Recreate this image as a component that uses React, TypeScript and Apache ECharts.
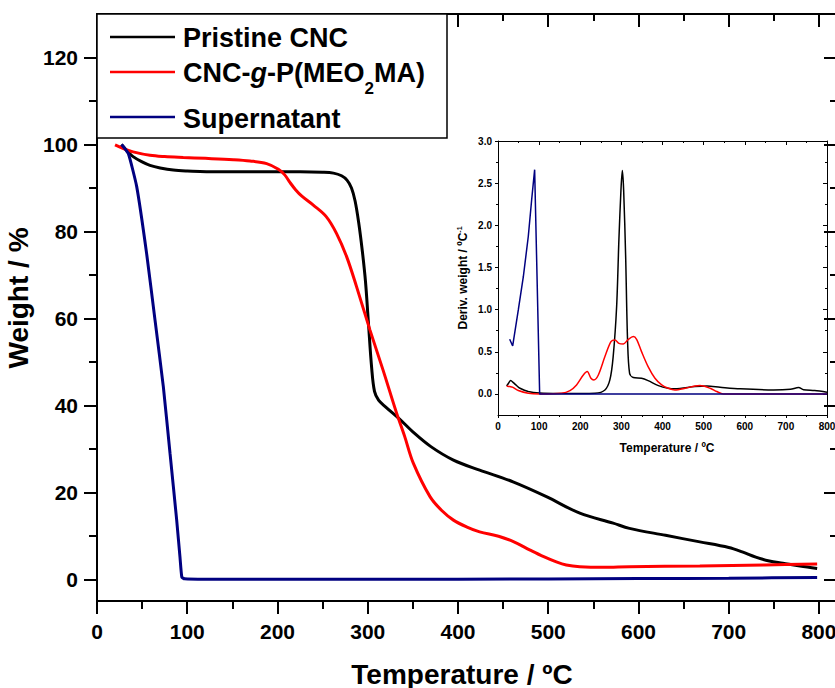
import React, { useEffect, useRef } from "react";
import * as echarts from "echarts";

// ---------- Data (main TGA curves: [temperature ºC, weight %]) ----------
const pristineMain: [number, number][] = [
  [27, 100], [33, 98.6], [40, 97.2], [50, 96], [58.7, 95.2], [70, 94.6], [84.5, 94.1], [100, 93.9],
  [133, 93.7], [200, 93.7], [225, 93.7], [250, 93.6], [262, 93.4], [271, 92.8], [277, 91.8], [282, 90],
  [286, 87], [290, 82], [294, 75.5], [297.5, 68.5], [300.6, 59.5], [304.4, 48.5], [307.5, 43.2], [312, 41.2],
  [320, 39.6], [335, 36.9], [350, 33.9], [370, 30.5], [395, 27.4], [424, 25.1], [461, 22.4], [498, 19],
  [535, 15.2], [572, 12.9], [590, 11.7], [630, 10.1], [668, 8.6], [700, 7.3], [715, 6.3], [730, 5.1],
  [745, 4.2], [760, 3.7], [779, 3.06], [798, 2.5],
];
const graftedMain: [number, number][] = [
  [20, 99.9], [30, 99], [40, 98.3], [58.7, 97.5], [75, 97.2], [95.6, 97], [120, 96.8], [151, 96.5],
  [169.5, 96.2], [188, 95.6], [201, 94.3], [208, 93], [214, 91.2], [220, 89.6], [227, 88.1], [240, 86],
  [254, 83.4], [265.5, 79.5], [276.6, 74.2], [287.6, 67.3], [302.5, 57.3], [317, 48.1], [332, 38.2],
  [341, 32.8], [350.5, 26.7], [369, 19], [382, 15.8], [395, 13.6], [410, 12], [424, 10.9], [445, 9.9],
  [462, 8.6], [480, 6.7], [495, 5.2], [509, 4.0], [520, 3.3], [535, 2.9], [561, 2.75], [590, 2.9],
  [668, 3.06], [740, 3.3], [798, 3.5],
];
const supernatantMain: [number, number][] = [
  [27.3, 100], [34.7, 97.9], [44, 90.3], [55, 74.9], [64.3, 59.6], [73.5, 44.3], [80.9, 29], [88.3, 13.6],
  [92, 5], [94, 0.5], [97, 0.1], [120, 0], [300, 0], [500, 0.05], [600, 0.15], [700, 0.25], [798, 0.4],
];

// ---------- Data (inset DTG curves: [temperature ºC, deriv. weight]) ----------
const pristineInset: [number, number][] = [
  [21, 0.095], [26, 0.13], [30.8, 0.158], [37.3, 0.134], [45, 0.1], [53.5, 0.067], [73.7, 0.028], [101, 0.01],
  [150, 0.005], [200, 0.005], [236, 0.008], [260, 0.047], [272, 0.166], [280, 0.44], [288.5, 1.04], [294, 1.83],
  [299, 2.42], [302.3, 2.65], [305.5, 2.42], [310.4, 1.63], [315, 0.64], [320, 0.245], [329, 0.194],
  [349, 0.186], [365, 0.158], [390, 0.099], [414, 0.067], [430, 0.06], [479, 0.087], [508, 0.095],
  [540, 0.08], [589, 0.06], [670, 0.047], [711, 0.055], [731, 0.075], [743, 0.05], [770, 0.04], [800, 0.02],
];
const graftedInset: [number, number][] = [
  [21, 0.095], [29, 0.087], [35, 0.08], [49.4, 0.04], [73.7, 0.008], [101, 0], [155, 0.008], [175, 0.04],
  [191, 0.107], [207.5, 0.225], [217, 0.265], [226, 0.186], [233, 0.166], [244, 0.225], [260, 0.443],
  [274.7, 0.62], [284.4, 0.64], [294, 0.6], [304.7, 0.593], [317, 0.648], [329, 0.68], [337, 0.648],
  [349, 0.502], [365, 0.324], [381.7, 0.186], [398, 0.107], [414, 0.067], [430, 0.047], [455, 0.067],
  [479, 0.095], [491, 0.1], [516, 0.067], [532, 0.028], [548, 0], [600, 0], [800, 0],
];
const supernatantInset: [number, number][] = [
  [28.4, 0.648], [35.7, 0.569], [49.4, 0.996], [61.6, 1.39], [73.7, 1.87], [81.8, 2.3], [89.1, 2.66],
  [101.3, 0], [200, 0], [800, 0],
];

// ---------- Tick values ----------
const mainXMajor = [0, 100, 200, 300, 400, 500, 600, 700, 800];
const mainXMinor = [50, 150, 250, 350, 450, 550, 650, 750];
const mainYMajor = [0, 20, 40, 60, 80, 100, 120];
const mainYMinor = [10, 30, 50, 70, 90, 110];
const insetYMajor = [0, 0.5, 1.0, 1.5, 2.0, 2.5, 3.0];
const insetYMinor = [0.25, 0.75, 1.25, 1.75, 2.25, 2.75];

const seriesNames = ["Pristine CNC", "CNC-g-P(MEO2MA)", "Supernatant"];
const seriesColors = ["#000000", "#ff0000", "#000080"];

const FONT = '"Liberation Sans", Arial, Helvetica, sans-serif';

function axisCommon(gridIndex: number, position: string, min: number, max: number, lineW: number, showLine: boolean) {
  return {
    type: "value",
    gridIndex,
    position,
    min,
    max,
    splitLine: { show: false },
    axisLine: { show: showLine, onZero: false, lineStyle: { color: "#000", width: lineW } },
  };
}

function tickAxis(
  gridIndex: number, position: string, min: number, max: number, values: number[],
  length: number, inside: boolean, lineW: number, showLine: boolean
): any {
  return {
    ...axisCommon(gridIndex, position, min, max, lineW, showLine),
    axisTick: { show: true, customValues: values, length, inside, lineStyle: { color: "#000", width: lineW } },
    axisLabel: { show: false },
  };
}

export default function App() {
  const ref = useRef<HTMLDivElement>(null);

  useEffect(() => {
    if (!ref.current) return;
    const chart = echarts.init(ref.current, undefined, { renderer: "svg" });

    const labelStyle = { fontFamily: FONT, fontWeight: "bold", color: "#000" };

    const xAxis: any[] = [
      {
        ...axisCommon(0, "bottom", 0, 820, 2, true),
        axisTick: { show: true, customValues: mainXMajor, length: 13, lineStyle: { color: "#000", width: 2 } },
        axisLabel: { customValues: mainXMajor, margin: 20, fontSize: 21, ...labelStyle },
        name: "Temperature / ºC",
        nameLocation: "middle",
        nameGap: 59,
        nameTextStyle: { fontSize: 28, ...labelStyle, padding: [0, 10, 0, 0] },
      },
      tickAxis(0, "bottom", 0, 820, mainXMinor, 8, false, 2, false),
      tickAxis(0, "top", 0, 820, mainXMajor, 13, true, 2, true),
      tickAxis(0, "top", 0, 820, mainXMinor, 7, true, 2, false),
      {
        ...axisCommon(1, "bottom", 0, 800, 1, true),
        interval: 100,
        axisTick: { show: true, length: 3, lineStyle: { color: "#000", width: 1 } },
        minorTick: { show: true, splitNumber: 2, length: 2, lineStyle: { color: "#000", width: 1 } },
        axisLabel: { margin: 6, fontSize: 10, ...labelStyle },
        name: "Temperature / ºC",
        nameLocation: "middle",
        nameGap: 27,
        nameTextStyle: { fontSize: 12, ...labelStyle, padding: [0, 0, 0, 9] },
      },
      {
        ...axisCommon(1, "top", 0, 800, 1, true),
        interval: 100,
        axisTick: { show: true, length: 4, inside: true, lineStyle: { color: "#000", width: 1 } },
        minorTick: { show: true, splitNumber: 2, length: 2, lineStyle: { color: "#000", width: 1 } },
        axisLabel: { show: false },
      },
    ];

    const yAxis: any[] = [
      {
        ...axisCommon(0, "left", -5, 130, 2, true),
        axisTick: { show: true, customValues: mainYMajor, length: 13, lineStyle: { color: "#000", width: 2 } },
        axisLabel: { customValues: mainYMajor, margin: 19, fontSize: 21, ...labelStyle },
        name: "Weight / %",
        nameLocation: "middle",
        nameGap: 57,
        nameTextStyle: { fontSize: 28, ...labelStyle, padding: [0, 0, 0, 19] },
      },
      tickAxis(0, "left", -5, 130, mainYMinor, 8, false, 2, false),
      tickAxis(0, "right", -5, 130, mainYMajor, 13, true, 2, true),
      tickAxis(0, "right", -5, 130, mainYMinor, 7, true, 2, false),
      {
        ...axisCommon(1, "left", -0.25, 3, 1, true),
        axisTick: { show: true, customValues: insetYMajor, length: 3, lineStyle: { color: "#000", width: 1 } },
        axisLabel: {
          customValues: insetYMajor,
          margin: 6,
          fontSize: 10,
          ...labelStyle,
          formatter: (v: number) => v.toFixed(1),
        },
        name: "Deriv. weight / ºC{sup|-1}",
        nameLocation: "middle",
        nameGap: 29,
        nameTextStyle: {
          fontSize: 12,
          ...labelStyle,
          lineHeight: 13,
          rich: {
            sup: { fontSize: 7, fontWeight: "bold", fontFamily: FONT, color: "#000", verticalAlign: "top", lineHeight: 7 },
          },
        },
      },
      tickAxis(1, "left", -0.25, 3, insetYMinor, 2, false, 1, false),
      tickAxis(1, "right", -0.25, 3, insetYMajor, 4, true, 1, true),
      tickAxis(1, "right", -0.25, 3, insetYMinor, 2, true, 1, false),
    ];

    const mainData = [pristineMain, graftedMain, supernatantMain];
    const insetData = [pristineInset, graftedInset, supernatantInset];

    const series: any[] = [];
    mainData.forEach((d, i) => {
      series.push({
        name: seriesNames[i],
        type: "line",
        xAxisIndex: 0,
        yAxisIndex: 0,
        data: d,
        showSymbol: false,
        symbol: "none",
        smooth: i === 2 ? 0.15 : 0.35,
        lineStyle: { color: seriesColors[i], width: 3 },
        z: 2 + i,
      });
    });
    insetData.forEach((d, i) => {
      series.push({
        name: seriesNames[i] + " (DTG)",
        type: "line",
        xAxisIndex: 4,
        yAxisIndex: 4,
        data: d,
        showSymbol: false,
        symbol: "none",
        smooth: i === 2 ? false : 0.3,
        lineStyle: { color: seriesColors[i], width: 1.5 },
        z: 2 + i,
      });
    });

    const legendFont = { fontFamily: FONT, fontWeight: "bold", fill: "#000" };
    const graphic: any[] = [
      {
        type: "rect",
        shape: { x: 97, y: 14, width: 350, height: 124 },
        style: { fill: "#fff", stroke: "#000", lineWidth: 1.5 },
        z: 10,
      },
      { type: "line", shape: { x1: 110, y1: 37, x2: 175, y2: 37 }, style: { stroke: seriesColors[0], lineWidth: 2.5 }, z: 11 },
      { type: "line", shape: { x1: 110, y1: 72, x2: 175, y2: 72 }, style: { stroke: seriesColors[1], lineWidth: 2.5 }, z: 11 },
      { type: "line", shape: { x1: 110, y1: 117, x2: 175, y2: 117 }, style: { stroke: seriesColors[2], lineWidth: 2.5 }, z: 11 },
      {
        type: "text",
        x: 183,
        y: 24,
        z: 11,
        style: { text: seriesNames[0], fontSize: 27, ...legendFont, verticalAlign: "top", lineHeight: 27 },
      },
      {
        type: "text",
        x: 183,
        y: 59.5,
        z: 11,
        style: {
          text: "{b|CNC-}{i|g}{b|-P(MEO}{s|2}{b|MA)}",
          fontSize: 27,
          ...legendFont,
          verticalAlign: "top",
          rich: {
            b: { fontSize: 27, lineHeight: 27, ...legendFont, verticalAlign: "top" },
            i: { fontSize: 27, lineHeight: 27, ...legendFont, fontStyle: "italic", verticalAlign: "top" },
            s: { fontSize: 17, lineHeight: 17, ...legendFont, verticalAlign: "top", padding: [20, 0, 0, 0] },
          },
        },
      },
      {
        type: "text",
        x: 183,
        y: 105,
        z: 11,
        style: { text: seriesNames[2], fontSize: 27, ...legendFont, verticalAlign: "top", lineHeight: 27 },
      },
    ];

    chart.setOption({
      animation: false,
      backgroundColor: "#fff",
      grid: [
        { left: 97, top: 14, width: 740, height: 587, outerBoundsMode: "none", containLabel: false },
        { left: 498, top: 141, width: 329, height: 274, outerBoundsMode: "none", containLabel: false },
      ],
      xAxis,
      yAxis,
      series,
      graphic,
    });

    return () => chart.dispose();
  }, []);

  return (
    <div
      ref={ref}
      style={{ position: "absolute", left: 0, top: 0, width: 835, height: 688, background: "#fff" }}
    />
  );
}
